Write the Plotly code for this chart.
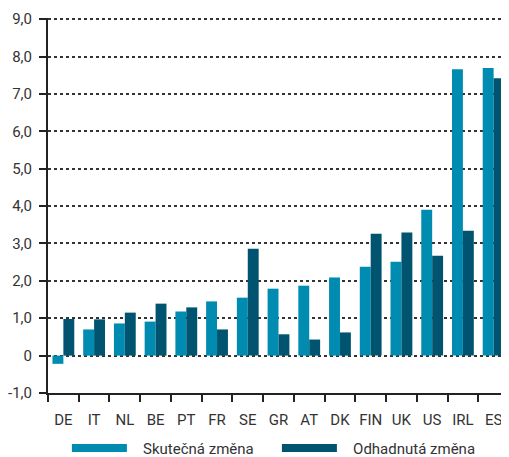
import plotly.graph_objects as go

# ------------------------------------------------------------
# DATA
# ------------------------------------------------------------
countries = ["DE", "IT", "NL", "BE", "PT", "FR", "SE", "GR", "AT", "DK",
             "FIN", "UK", "US", "IRL", "ES"]
actual = [-0.22, 0.70, 0.86, 0.91, 1.18, 1.45, 1.55, 1.79, 1.87, 2.09,
          2.38, 2.51, 3.90, 7.66, 7.69]
estimated = [0.98, 0.97, 1.15, 1.39, 1.29, 0.70, 2.86, 0.57, 0.43, 0.62,
             3.26, 3.29, 2.67, 3.34, 7.42]

y_ticks = [-1, 0, 1, 2, 3, 4, 5, 6, 7, 8, 9]
y_labels = ["-1,0", "0", "1,0", "2,0", "3,0", "4,0", "5,0", "6,0", "7,0", "8,0", "9,0"]

names = ["Skutečná změna", "Odhadnutá změna"]
colors = ["#008BB1", "#00546F"]

# ------------------------------------------------------------
# FIGURE
# ------------------------------------------------------------
fig = go.Figure()

for vals, name, col in zip([actual, estimated], names, colors):
    fig.add_trace(go.Bar(x=countries, y=vals, name=name, marker_color=col,
                         marker_line_width=0, showlegend=False))

# wide line symbols for the legend (nbsp pads the gap to the text)
for name, col in zip(names, colors):
    fig.add_trace(go.Scatter(x=[None], y=[None], mode="lines",
                             name="\u00a0\u00a0\u00a0" + name,
                             line=dict(color=col, width=8)))

font = "Roboto"

# page body has an 8px margin, so the figure is 8px smaller each way
fig.update_layout(
    width=501,
    height=449,
    margin=dict(l=40, r=0, t=10, b=64, autoexpand=False),
    plot_bgcolor="white",
    paper_bgcolor="white",
    barmode="group",
    bargap=0.29,
    bargroupgap=0,
    font=dict(family=font, size=15, color="#333333"),
    legend=dict(
        orientation="h",
        x=0.041, xanchor="left",
        y=-0.103, yanchor="top",
        itemwidth=55,
        entrywidth=140,
        font=dict(size=15, color="#333333"),
        tracegroupgap=0,
    ),
)

fig.update_xaxes(
    type="category",
    showline=True, linecolor="#222222", linewidth=2,
    ticks="outside", tickson="boundaries", ticklen=7,
    tickcolor="#222222", tickwidth=2,
    tickangle=0,
    ticklabelstandoff=12,
    showgrid=False,
    automargin=False,
    tickfont=dict(size=15, color="#333333"),
)

fig.update_yaxes(
    range=[-1, 9.03],
    tickvals=y_ticks, ticktext=y_labels,
    showline=True, linecolor="#222222", linewidth=2,
    ticks="outside", ticklen=7, tickcolor="#222222", tickwidth=2,
    ticklabelstandoff=4,
    showgrid=True, gridcolor="#333333", gridwidth=1.5, griddash="dot",
    zeroline=False,
    automargin=False,
    tickfont=dict(size=15, color="#333333"),
)

fig.write_html("out.html")
